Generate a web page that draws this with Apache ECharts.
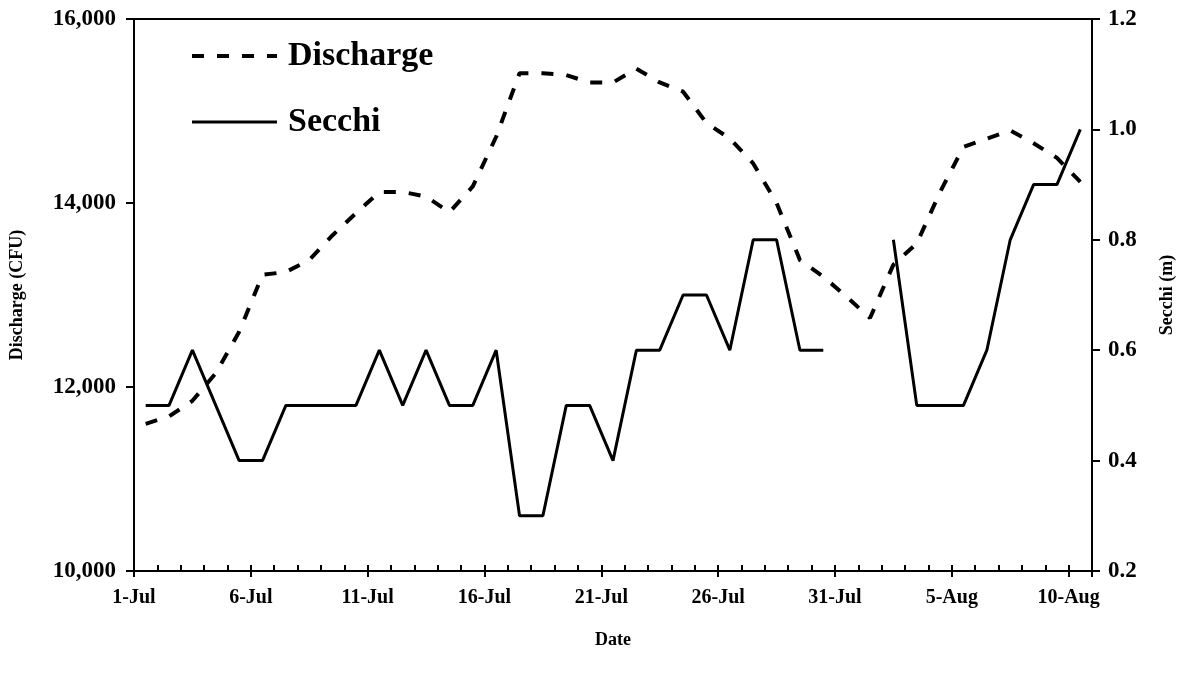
<!DOCTYPE html>
<html>
<head>
<meta charset="utf-8">
<script src="https://cdn.jsdelivr.net/npm/echarts@6/dist/echarts.min.js"></script>
<style>
  html, body {margin: 0; padding: 0; background: #fff;}
  #view {width: 1184px; height: 677px;}
</style>
</head>
<body>
<div id="view"></div>
<script>
// one point per day, 1-Jul .. 10-Aug
var dates = ['1-Jul','2-Jul','3-Jul','4-Jul','5-Jul','6-Jul','7-Jul','8-Jul','9-Jul','10-Jul',
    '11-Jul','12-Jul','13-Jul','14-Jul','15-Jul','16-Jul','17-Jul','18-Jul','19-Jul','20-Jul',
    '21-Jul','22-Jul','23-Jul','24-Jul','25-Jul','26-Jul','27-Jul','28-Jul','29-Jul','30-Jul',
    '31-Jul','1-Aug','2-Aug','3-Aug','4-Aug','5-Aug','6-Aug','7-Aug','8-Aug','9-Aug','10-Aug'];

var discharge = [11600, 11680, 11850, 12150, 12600, 13220, 13250, 13380, 13650, 13890,
    14120, 14120, 14070, 13900, 14180, 14720, 15410, 15410, 15390, 15310,
    15310, 15460, 15310, 15210, 14870, 14700, 14430, 14000, 13380, 13200,
    12980, 12750, 13330, 13560, 14120, 14610, 14700, 14790, 14650, 14490, 14230];

var secchi = [0.5, 0.5, 0.6, 0.5, 0.4, 0.4, 0.5, 0.5, 0.5, 0.5,
    0.6, 0.5, 0.6, 0.5, 0.5, 0.6, 0.3, 0.3, 0.5, 0.5,
    0.4, 0.6, 0.6, 0.7, 0.7, 0.6, 0.8, 0.8, 0.6, 0.6,
    null, null, 0.8, 0.5, 0.5, 0.5, 0.6, 0.8, 0.9, 0.9, 1.0];

var xTickLabels = ['1-Jul', '6-Jul', '11-Jul', '16-Jul', '21-Jul', '26-Jul', '31-Jul', '5-Aug', '10-Aug'];

var font = '"Liberation Serif", "Times New Roman", serif';

// points sit in the middle of each day slot
function toPoints(values) {
    return values.map(function(v, i) { return [i + 0.5, v]; });
}

var chart = echarts.init(document.getElementById('view'));

var xLabelStyle = {color: '#000', fontFamily: font, fontWeight: 'bold', fontSize: 20};
var yLabelStyle = {color: '#000', fontFamily: font, fontWeight: 'bold', fontSize: 23};
var nameStyle = {color: '#000', fontFamily: font, fontWeight: 'bold', fontSize: 18};
var dashed = {color: '#000', width: 4, type: [12, 13]};
var solid = {color: '#000', width: 3, type: 'solid'};

var options = {
    animation: false,
    grid: {left: 132, right: 87, top: 19, bottom: 106, show: true, borderColor: '#000', borderWidth: 2},
    legend: {
        left: 185, top: 34, orient: 'vertical',
        itemWidth: 85, itemHeight: 14, itemGap: 32,
        itemStyle: {opacity: 0},
        data: [
            {name: 'Discharge', lineStyle: dashed},
            {name: 'Secchi', lineStyle: solid}
        ],
        textStyle: {color: '#000', fontFamily: font, fontWeight: 'bold', fontSize: 34, padding: [0, 0, 0, 6]}
    },
    xAxis: [{
        type: 'value', min: 0, max: 41, interval: 5,
        name: 'Date', nameLocation: 'middle', nameGap: 60, nameTextStyle: nameStyle,
        splitLine: {show: false},
        axisLine: {onZero: false, lineStyle: {color: '#000', width: 2}},
        axisTick: {inside: true, length: 6, lineStyle: {color: '#000', width: 2}},
        minorTick: {show: true, splitNumber: 5, length: 6, lineStyle: {color: '#000', width: 2}},
        axisLabel: Object.assign({}, xLabelStyle, {
            margin: 17, showMaxLabel: false,
            formatter: function(v) { return v % 5 === 0 ? (xTickLabels[v / 5] || '') : ''; }
        })
    }, {
        // outer half of the major ticks
        type: 'value', min: 0, max: 41, interval: 5, position: 'bottom',
        splitLine: {show: false},
        axisLine: {show: false, onZero: false},
        axisTick: {inside: false, length: 6, lineStyle: {color: '#000', width: 2}},
        axisLabel: {show: false}
    }],
    yAxis: [{
        type: 'value', min: 10000, max: 16000, interval: 2000, position: 'left',
        name: 'Discharge (CFU)', nameLocation: 'middle', nameGap: 108, nameTextStyle: nameStyle,
        splitLine: {show: false},
        axisLine: {show: true, onZero: false, lineStyle: {color: '#000', width: 2}},
        axisTick: {show: true, length: 8, lineStyle: {color: '#000', width: 2}},
        axisLabel: Object.assign({}, yLabelStyle, {
            margin: 18,
            formatter: function(v) { return v.toLocaleString('en-US'); }
        })
    }, {
        type: 'value', min: 0.2, max: 1.2, interval: 0.2, position: 'right',
        name: 'Secchi (m)', nameLocation: 'middle', nameGap: 66, nameTextStyle: nameStyle,
        splitLine: {show: false},
        axisLine: {show: true, onZero: false, lineStyle: {color: '#000', width: 2}},
        axisTick: {show: true, length: 8, lineStyle: {color: '#000', width: 2}},
        axisLabel: Object.assign({}, yLabelStyle, {
            margin: 16,
            formatter: function(v) { return v.toFixed(1); }
        })
    }],
    series: [{
        name: 'Discharge', type: 'line', xAxisIndex: 0, yAxisIndex: 0,
        symbol: 'none', data: toPoints(discharge),
        itemStyle: {color: '#000'},
        lineStyle: dashed
    }, {
        name: 'Secchi', type: 'line', xAxisIndex: 0, yAxisIndex: 1,
        symbol: 'none', data: toPoints(secchi),
        itemStyle: {color: '#000'},
        lineStyle: solid
    }]
};
chart.setOption(options);
</script>
</body>
</html>
